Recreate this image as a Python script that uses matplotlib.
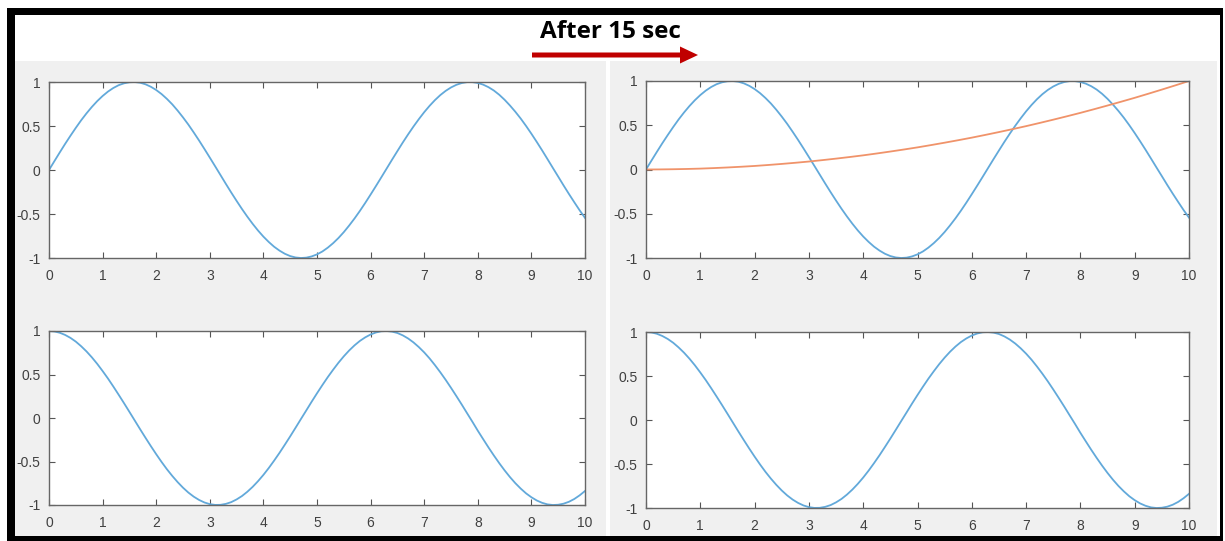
import matplotlib
matplotlib.use("Agg")
import matplotlib.pyplot as plt
from matplotlib.patches import Rectangle, FancyArrow
from matplotlib.ticker import FormatStrFormatter

# values, x from 0 to 10 in steps of 0.1
x_vals = [i / 10 for i in range(101)]
sine_vals = [0, 0.100, 0.199, 0.296, 0.389, 0.479, 0.565, 0.644, 0.717, 0.783,
             0.841, 0.891, 0.932, 0.964, 0.985, 0.997, 1.000, 0.992, 0.974, 0.946,
             0.909, 0.863, 0.808, 0.746, 0.675, 0.598, 0.516, 0.427, 0.335, 0.239,
             0.141, 0.042, -0.058, -0.158, -0.256, -0.351, -0.443, -0.530, -0.612, -0.688,
             -0.757, -0.818, -0.872, -0.916, -0.952, -0.978, -0.994, -1.000, -0.996, -0.982,
             -0.959, -0.926, -0.883, -0.832, -0.773, -0.706, -0.631, -0.551, -0.465, -0.374,
             -0.279, -0.182, -0.083, 0.017, 0.117, 0.215, 0.312, 0.405, 0.494, 0.578,
             0.657, 0.729, 0.794, 0.851, 0.899, 0.938, 0.968, 0.988, 0.999, 0.999,
             0.989, 0.970, 0.941, 0.903, 0.855, 0.798, 0.733, 0.662, 0.585, 0.501,
             0.412, 0.319, 0.223, 0.124, 0.024, -0.075, -0.175, -0.272, -0.366, -0.458,
             -0.544]
cosine_vals = [1.000, 0.995, 0.980, 0.955, 0.921, 0.878, 0.825, 0.765, 0.697, 0.622,
               0.540, 0.454, 0.362, 0.267, 0.170, 0.071, -0.029, -0.129, -0.227, -0.323,
               -0.416, -0.505, -0.589, -0.666, -0.737, -0.801, -0.857, -0.904, -0.942, -0.971,
               -0.990, -0.999, -0.998, -0.987, -0.967, -0.936, -0.897, -0.848, -0.791, -0.726,
               -0.654, -0.575, -0.490, -0.401, -0.307, -0.211, -0.112, -0.012, 0.087, 0.187,
               0.284, 0.378, 0.469, 0.554, 0.635, 0.709, 0.776, 0.835, 0.886, 0.927,
               0.960, 0.983, 0.997, 1.000, 0.993, 0.977, 0.950, 0.914, 0.869, 0.815,
               0.754, 0.685, 0.608, 0.526, 0.439, 0.347, 0.252, 0.155, 0.055, -0.044,
               -0.146, -0.243, -0.339, -0.431, -0.519, -0.602, -0.679, -0.749, -0.811, -0.866,
               -0.911, -0.948, -0.975, -0.993, -1.000, -0.997, -0.985, -0.963, -0.931, -0.889,
               -0.839]
# orange curve, x from 0 to 10 in steps of 0.25
x_curve = [0, 0.25, 0.5, 0.75, 1, 1.25, 1.5, 1.75, 2, 2.25, 2.5, 2.75, 3, 3.25, 3.5,
           3.75, 4, 4.25, 4.5, 4.75, 5, 5.25, 5.5, 5.75, 6, 6.25, 6.5, 6.75, 7, 7.25,
           7.5, 7.75, 8, 8.25, 8.5, 8.75, 9, 9.25, 9.5, 9.75, 10]
curve_vals = [0, 0.001, 0.003, 0.006, 0.01, 0.016, 0.023, 0.031, 0.04, 0.051, 0.063,
              0.076, 0.09, 0.106, 0.123, 0.141, 0.16, 0.181, 0.203, 0.226, 0.25, 0.276,
              0.303, 0.331, 0.36, 0.391, 0.423, 0.456, 0.49, 0.526, 0.563, 0.601, 0.64,
              0.681, 0.723, 0.766, 0.81, 0.856, 0.903, 0.951, 1.0]
x_ticks = [0, 1, 2, 3, 4, 5, 6, 7, 8, 9, 10]
y_ticks = [-1, -0.5, 0, 0.5, 1]
title = "After 15 sec"

W, H = 1225, 541
BLUE = "#62a9da"
ORANGE = "#f0936a"
PANEL = "#f0f0f0"

fig = plt.figure(figsize=(W / 100, H / 100), dpi=100, facecolor="white")


def box(x0, y0, x1, y1, color):
    # rectangle given in pixel coords (top-left origin)
    fig.patches.append(Rectangle((x0 / W, 1 - y1 / H), (x1 - x0) / W, (y1 - y0) / H,
                                 transform=fig.transFigure, color=color, lw=0, zorder=-5))


# grey figure panels
box(15, 61, 606, 537, PANEL)
box(610, 61, 1217, 537, PANEL)

# black frame
box(7, 8, 1223, 15, "black")
box(7, 8, 15, 541, "black")
box(7, 536, 1223, 541, "black")
box(1220, 8, 1223, 541, "black")

# title and arrow
fig.text(610 / W, 1 - 32 / H, title, ha="center", va="center",
         fontsize=17.5, fontweight="bold", family="Open Sans")
fig.patches.append(FancyArrow(532 / W, 1 - 55 / H, 148 / W, 0, width=5 / H,
                              head_width=17 / H, head_length=18 / W,
                              length_includes_head=False, transform=fig.transFigure,
                              color="#c00000", lw=0, zorder=-4))


def make_axes(x0, x1, y0, y1):
    ax = fig.add_axes([x0 / W, 1 - y1 / H, (x1 - x0) / W, (y1 - y0) / H])
    ax.set_zorder(2)
    ax.set_xlim(0, 10)
    ax.set_ylim(-1, 1)
    ax.set_xticks(x_ticks)
    ax.set_yticks(y_ticks)
    ax.yaxis.set_major_formatter(FormatStrFormatter("%g"))
    ax.tick_params(direction="in", length=4, width=0.8, color="#555555",
                   labelcolor="#404040", labelsize=10, top=True, right=True, pad=6)
    ax.tick_params(axis="x", pad=8)
    for s in ax.spines.values():
        s.set_color("#666666")
        s.set_linewidth(1.0)
    for lab in ax.get_xticklabels() + ax.get_yticklabels():
        lab.set_family("Liberation Sans")
    return ax


ax1 = make_axes(49, 585, 82, 258)
ax1.plot(x_vals, sine_vals, color=BLUE, lw=1.3)

ax2 = make_axes(646, 1189, 81, 258)
ax2.plot(x_vals, sine_vals, color=BLUE, lw=1.3)
ax2.plot(x_curve, curve_vals, color=ORANGE, lw=1.3)

ax3 = make_axes(49, 585, 331, 505)
ax3.plot(x_vals, cosine_vals, color=BLUE, lw=1.3)

ax4 = make_axes(646, 1189, 332, 508)
ax4.plot(x_vals, cosine_vals, color=BLUE, lw=1.3)

fig.savefig("out.png", dpi=100, facecolor="white")
